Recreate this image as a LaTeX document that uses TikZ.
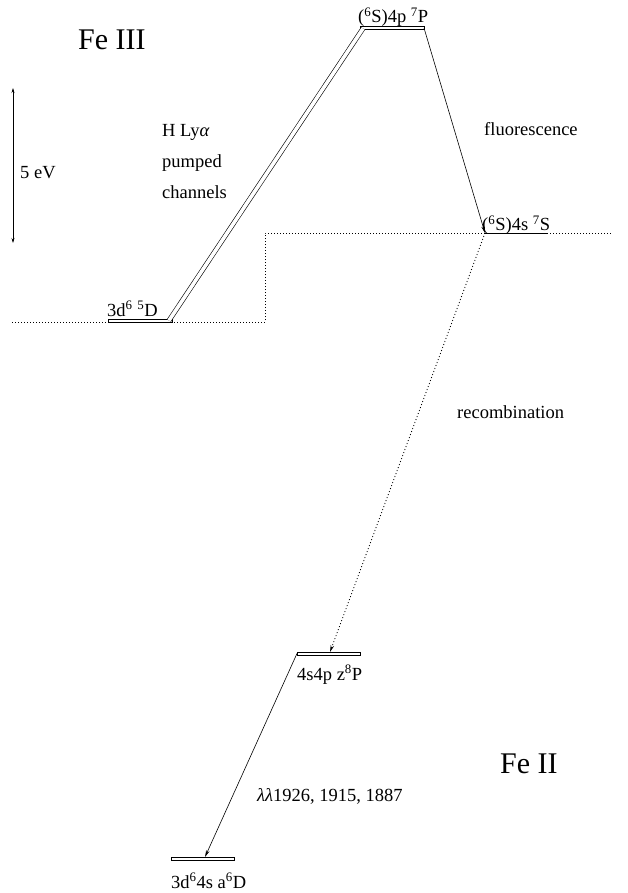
\documentclass[tikz,border=0pt]{standalone}
\usepackage{fontspec}
\setmainfont{Liberation Serif}
\usetikzlibrary{arrows.meta}
\begin{document}
\begin{tikzpicture}[x=1pt,y=-1pt,
  levelbar/.style={draw, line width=0.6pt, minimum height=3.2pt, inner sep=0pt, outer sep=0pt},
  lbl/.style={anchor=base west, inner sep=0pt, font=\fontsize{18.5}{21}\selectfont},
  big/.style={anchor=base west, inner sep=0pt, font=\fontsize{30}{34}\selectfont},
  guide/.style={line width=0.7pt, dash pattern=on 0.9pt off 2.1pt},
  arr/.style={line width=0.6pt, -{Stealth[length=7pt,width=3.5pt]}}]
\useasboundingbox (0,0) rectangle (627,893);
% levels
\node[levelbar, minimum width=64pt] (p7) at (392,28) {};
\node[levelbar, minimum width=64pt] (d5) at (140,321) {};
\node[levelbar, minimum width=63pt] (z8) at (328.5,653.5) {};
\node[levelbar, minimum width=63pt] (a6) at (202.5,858.5) {};
\coordinate (s7a) at (485,233);
\coordinate (s7b) at (548,233);
\draw[line width=0.6pt] (s7a) -- (s7b);
% ionisation thresholds
\coordinate (t1) at (12,322);
\coordinate (t2) at (265,322);
\coordinate (t3) at (265,233);
\coordinate (t4) at (612,233);
\draw[guide] (t1) -- (t2) -- (t3) -- (t4);
% pumped channel (double line)
\coordinate (pa) at (363,28.5);
\coordinate (da) at (169,320.5);
\draw[double, double distance=3.6pt, line width=0.6pt] (pa) -- (da);
% fluorescence
\draw[arr] (p7.east) -- (s7a);
% recombination
\coordinate (z8t) at (330,652);
\draw[line width=0.8pt, dash pattern=on 1pt off 2.2pt, -{Stealth[length=7pt,width=3.5pt]}] (s7a) -- (z8t);
% decay
\coordinate (a6t) at (205,857);
\draw[arr] (z8.west) -- (a6t);
% 5 eV scale
\coordinate (e1) at (13,88);
\coordinate (e2) at (13,243);
\draw[line width=0.6pt, {Stealth[length=5pt,width=3pt]}-{Stealth[length=5pt,width=3pt]}] (e1) -- (e2);
% labels
\node[big] (fe3) at (78,50) {Fe III};
\node[big] (fe2) at (500,773) {Fe II};
\node[lbl] (lp7) at (358,23) {(\textsuperscript{6}S)4p \textsuperscript{7}P};
\node[lbl] (ld5) at (107,316) {3d\textsuperscript{6} \textsuperscript{5}D};
\node[lbl] (ls7) at (482,231) {(\textsuperscript{6}S)4s \textsuperscript{7}S};
\node[lbl] (lz8) at (297,680) {4s4p z\textsuperscript{8}P};
\node[lbl] (la6) at (171,888) {3d\textsuperscript{6}4s a\textsuperscript{6}D};
\node[lbl] (h1) at (162,137) {H Ly\textit{α}};
\node[lbl] (h2) at (162,168) {pumped};
\node[lbl] (h3) at (162,199) {channels};
\node[lbl] (fl) at (484,136) {fluorescence};
\node[lbl] (rc) at (457,418) {recombination};
\node[lbl] (lam) at (257,801) {\textit{λλ}1926, 1915, 1887};
\node[lbl] (ev) at (20,179) {5 eV};
\end{tikzpicture}
\end{document}
